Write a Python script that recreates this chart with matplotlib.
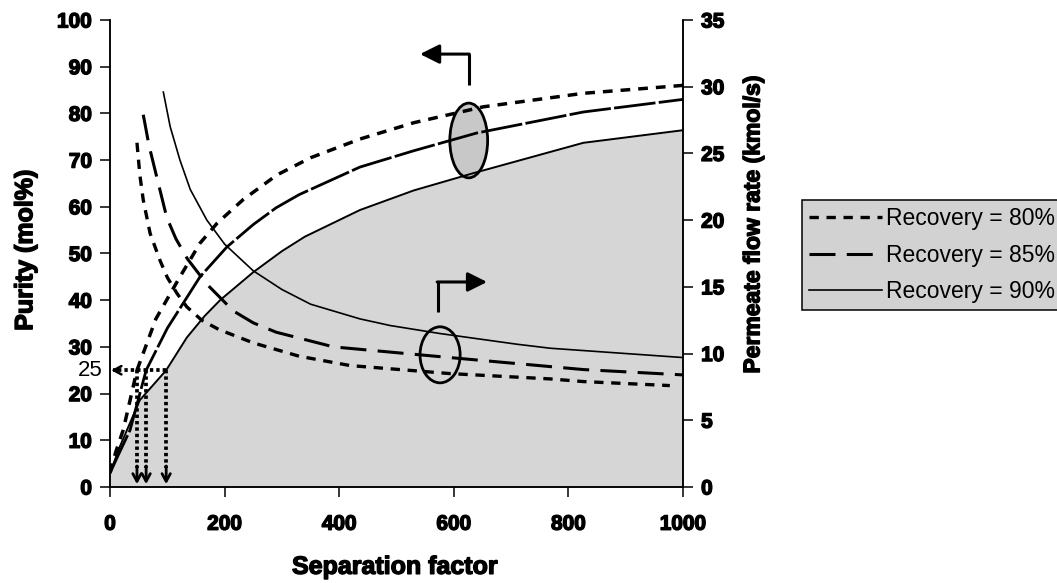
import matplotlib
matplotlib.use("Agg")
from matplotlib import pyplot as plt
from matplotlib.lines import Line2D
from matplotlib.patches import Ellipse
import matplotlib.patheffects as pe

plt.rcParams["font.family"] = ["Liberation Sans", "DejaVu Sans"]

# Purity (left axis) vs separation factor
sep_80 = [0, 10, 23, 47, 80, 122, 157, 187, 232, 291, 350, 436, 530, 651, 826, 1000]
purity_80 = [3, 7.5, 12.2, 25, 36, 45, 52.2, 56.5, 61.5, 66.8, 70.5, 74.5, 78, 81.4, 84.3, 86]
sep_85 = [0, 15, 35, 63, 100, 157, 204, 250, 290, 330, 436, 530, 640, 826, 1000]
purity_85 = [3, 7, 12.2, 25, 34, 45, 51.4, 56.2, 59.8, 62.6, 68.5, 72, 75.8, 80.3, 83]
sep_90 = [0, 17, 52, 98, 134, 165, 192, 250, 300, 340, 436, 530, 634, 826, 1000]
purity_90 = [3, 8.6, 18.6, 25, 32, 36.6, 40, 46, 50.5, 53.6, 59.3, 63.5, 67.2, 73.7, 76.4]

# Permeate flow rate (right axis) vs separation factor
fsep_80 = [47, 52, 58, 70, 87, 100, 117, 134, 160, 190, 250, 330, 419, 593, 768, 826, 977]
flow_80 = [25.8, 23.4, 21.5, 19.0, 17.0, 15.7, 14.5, 13.5, 12.5, 11.8, 10.8, 9.8, 9.1,
           8.5, 8.1, 7.9, 7.6]
fsep_85 = [58, 68, 80, 99, 115, 135, 169, 215, 250, 290, 390, 593, 826, 1000]
flow_85 = [27.9, 25.6, 23.5, 20.2, 18.6, 17.1, 15.2, 13.2, 12.3, 11.6, 10.5, 9.7, 8.8, 8.4]
fsep_90 = [93, 105, 122, 140, 169, 200, 250, 300, 350, 436, 489, 576, 710, 768, 1000]
flow_90 = [29.6, 27.0, 24.5, 22.3, 20.0, 18.2, 16.2, 14.8, 13.7, 12.6, 12.1, 11.5, 10.7,
           10.4, 9.7]

# separation factor needed for 25 mol% purity
target_purity = 25
sep_at_target = [47, 63, 98]

labels = ["Recovery = 80%", "Recovery = 85%", "Recovery = 90%"]

heavy = [pe.withStroke(linewidth=1.0, foreground="black")]

fig = plt.figure(figsize=(10.57, 5.83), dpi=100)
ax = fig.add_axes([0.1041, 0.1647, 0.5421, 0.8010])
ax2 = ax.twinx()

# gray area under the lowest purity curve
ax.fill_between(sep_90, purity_90, 0, color="#d6d6d6", lw=0, zorder=0.5)

ax.plot(sep_80, purity_80, color="black", lw=2.5, dashes=(2.8, 2.3))
ax.plot(sep_85, purity_85, color="black", lw=2.0, dashes=(15, 1.2))
ax.plot(sep_90, purity_90, color="black", lw=1.4)

ax2.plot(fsep_80, flow_80, color="black", lw=2.4, dashes=(2.8, 2.3))
ax2.plot(fsep_85, flow_85, color="black", lw=2.2, dashes=(8.5, 3.7))
ax2.plot(fsep_90, flow_90, color="black", lw=1.2)

# dotted guide arrows at 25 mol%
dot = dict(color="black", lw=2.7, dashes=(0.9, 0.8), solid_capstyle="butt")
ax.plot([max(sep_at_target), 6], [target_purity, target_purity], **dot)
ax.annotate("", xy=(2, target_purity), xytext=(14, target_purity),
            arrowprops=dict(arrowstyle="->,head_length=0.55,head_width=0.3",
                            lw=1.8, color="black", shrinkA=0, shrinkB=0))
for s in sep_at_target:
    ax.plot([s, s], [target_purity, 4], **dot)
    ax.annotate("", xy=(s, 0.6), xytext=(s, 4.5),
                arrowprops=dict(arrowstyle="->,head_length=0.55,head_width=0.3",
                                lw=2.0, color="black", shrinkA=0, shrinkB=0))
ax.text(-13, target_purity, "25", ha="right", va="center", fontsize=16,
        clip_on=False)

# ellipses and direction arrows
ax.add_patch(Ellipse((626, 74.2), 66, 16, fc="#c8c8c8", ec="black", lw=2, zorder=1.5))
ax.add_patch(Ellipse((576, 28.3), 70, 12, fc="none", ec="black", lw=2, zorder=3))
ax.plot([626, 626], [86.1, 92.7], color="black", lw=2.2, solid_capstyle="butt")
ax.annotate("", xy=(541, 92.7), xytext=(627, 92.7),
            arrowprops=dict(arrowstyle="-|>,head_length=0.9,head_width=0.45",
                            mutation_scale=13, lw=2.2, color="black", shrinkA=0, shrinkB=0))
ax.plot([572, 572], [37.5, 43.9], color="black", lw=2.2, solid_capstyle="butt")
ax.annotate("", xy=(658, 43.9), xytext=(571, 43.9),
            arrowprops=dict(arrowstyle="-|>,head_length=0.9,head_width=0.45",
                            mutation_scale=13, lw=2.2, color="black", shrinkA=0, shrinkB=0))

ax.set_xlim(0, 1000)
ax.set_ylim(0, 100)
ax2.set_ylim(0, 35)
ax.set_xticks(range(0, 1001, 200))
ax.set_yticks(range(0, 101, 10))
ax2.set_yticks(range(0, 36, 5))

for a in (ax, ax2):
    a.spines["top"].set_visible(False)
    for sp in a.spines.values():
        sp.set_linewidth(1.1)
ax.tick_params(axis="x", direction="out", length=7, width=1.1, pad=13, labelsize=15)
ax.tick_params(axis="y", direction="out", length=7, width=1.1, pad=6, labelsize=15)
ax2.tick_params(axis="y", direction="out", length=7, width=1.1, pad=6, labelsize=15)
for t in ax.get_xticklabels() + ax.get_yticklabels() + ax2.get_yticklabels():
    t.set_fontweight("bold")
    t.set_path_effects(heavy)

ax.set_xlabel("Separation factor", fontsize=18, fontweight="bold", va="center",
              path_effects=heavy)
ax.xaxis.set_label_coords(0.497, -0.171)
ax.set_ylabel("Purity (mol%)", fontsize=18, fontweight="bold", va="center",
              path_effects=heavy)
ax.yaxis.set_label_coords(-0.148, 0.507)
ax2.set_ylabel("Permeate flow rate (kmol/s)", fontsize=16.5, fontweight="bold",
               va="center", rotation=90, path_effects=heavy)
ax2.yaxis.set_label_coords(1.122, 0.561)

handles = [
    Line2D([], [], color="black", lw=2.4, dashes=(2.8, 2.3)),
    Line2D([], [], color="black", lw=2.2, dashes=(8.5, 3.7)),
    Line2D([], [], color="black", lw=1.2),
]
leg = fig.legend(handles, labels, loc="upper left",
                 bbox_to_anchor=(802 / 1057, 1 - 200 / 583),
                 fontsize=16.5, frameon=True, fancybox=False, framealpha=1,
                 facecolor="#d2d2d2", edgecolor="black", borderpad=0.3,
                 labelspacing=0.6, handlelength=3.2, handletextpad=0.15,
                 borderaxespad=0)
leg.get_frame().set_linewidth(1.1)

fig.savefig("out.png", dpi=100)
